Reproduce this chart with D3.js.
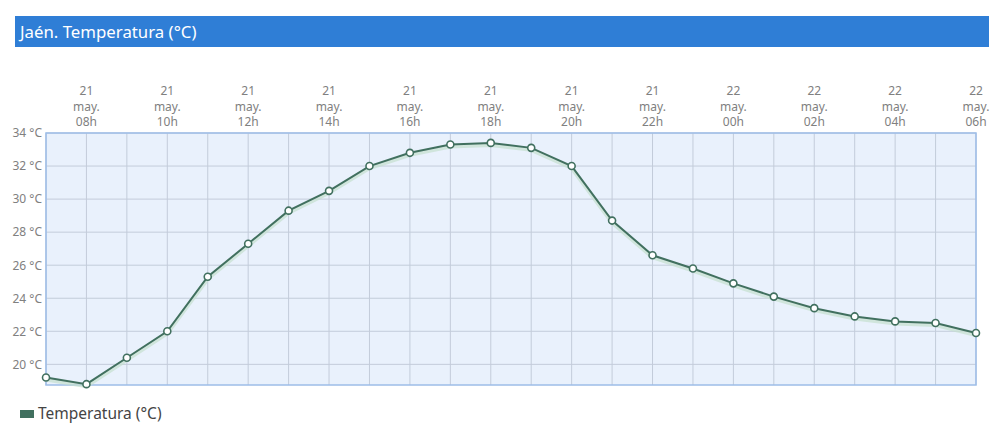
<!DOCTYPE html>
<html>
<head>
<meta charset="utf-8">
<script src="https://cdn.jsdelivr.net/npm/d3@7"></script>
<style>
  body { margin: 0; background: #fff; font-family: "Noto Sans", sans-serif; }
  svg { display: block; }
</style>
</head>
<body>
<div id="chart"></div>
<script>
// Data
var hours = ["07h","08h","09h","10h","11h","12h","13h","14h","15h","16h","17h","18h",
             "19h","20h","21h","22h","23h","00h","01h","02h","03h","04h","05h","06h"];
var days  = ["21","21","21","21","21","21","21","21","21","21","21","21",
             "21","21","21","21","21","22","22","22","22","22","22","22"];
var temps = [19.2, 18.8, 20.4, 22.0, 25.3, 27.3, 29.3, 30.5, 32.0, 32.8, 33.3, 33.4,
             33.1, 32.0, 28.7, 26.6, 25.8, 24.9, 24.1, 23.4, 22.9, 22.6, 22.5, 21.9];
var yTicks = [20, 22, 24, 26, 28, 30, 32, 34];
var title = "Jaén. Temperatura (°C)";
var seriesName = "Temperatura (°C)";

// Size
var width  = 1000;
var height = 429;
var plot = { left: 46, right: 976, top: 133, bottom: 385 };

var svg = d3.select("#chart")
        .append("svg")
        .attr("width", width)
        .attr("height", height);

// title bar
svg.append("rect")
        .attr("x", 15)
        .attr("y", 16)
        .attr("width", 974)
        .attr("height", 31)
        .style("fill", "#2f7ed6");
svg.append("text")
        .attr("x", 20)
        .attr("y", 38)
        .style("fill", "#fff")
        .style("font-size", "16.8px")
        .text(title);

var x = d3.scalePoint()
        .domain(d3.range(temps.length))
        .range([plot.left, plot.right]);
var y = d3.scaleLinear()
        .domain([18.75, 34])
        .range([plot.bottom, plot.top]);

// background
svg.append("rect")
        .attr("x", plot.left)
        .attr("y", plot.top)
        .attr("width", plot.right - plot.left)
        .attr("height", plot.bottom - plot.top)
        .style("fill", "#e9f1fc");

// grid
var grid = svg.append("g").attr("class", "grid");
grid.selectAll("line.v")
        .data(d3.range(temps.length))
        .enter()
        .append("line")
        .attr("x1", function(d){ return x(d); })
        .attr("x2", function(d){ return x(d); })
        .attr("y1", plot.top)
        .attr("y2", plot.bottom)
        .style("stroke", "#c3ccda")
        .style("stroke-width", "1px");
grid.selectAll("line.h")
        .data(yTicks)
        .enter()
        .append("line")
        .attr("x1", plot.left)
        .attr("x2", plot.right)
        .attr("y1", function(d){ return y(d); })
        .attr("y2", function(d){ return y(d); })
        .style("stroke", "#c3ccda")
        .style("stroke-width", "1px");

// border
svg.append("rect")
        .attr("x", plot.left)
        .attr("y", plot.top)
        .attr("width", plot.right - plot.left)
        .attr("height", plot.bottom - plot.top)
        .style("fill", "none")
        .style("stroke", "#9dbde8")
        .style("stroke-width", "1.5px");

// y axis labels
var yAxis = d3.axisLeft(y)
        .tickValues(yTicks)
        .tickSize(0)
        .tickPadding(4)
        .tickFormat(function(d){ return d + " °C"; });
svg.append("g")
        .attr("transform", "translate(" + plot.left + ",0)")
        .call(yAxis)
        .call(function(g){ g.select(".domain").remove(); })
        .selectAll("text")
        .style("fill", "#808080")
        .style("font-size", "12px")
        .style("font-family", "Noto Sans, sans-serif");

// x axis labels, every 2 hours
var xLabels = svg.append("g").attr("class", "xlabels");
var labelIdx = d3.range(1, temps.length, 2);
labelIdx.forEach(function(i){
    var t = xLabels.append("text")
            .attr("x", x(i))
            .attr("y", 95)
            .attr("text-anchor", "middle")
            .style("fill", "#808080")
            .style("font-size", "12px");
    t.append("tspan").attr("x", x(i)).attr("dy", 0).text(days[i]);
    t.append("tspan").attr("x", x(i)).attr("dy", 15.5).text("may.");
    t.append("tspan").attr("x", x(i)).attr("dy", 15.5).text(hours[i]);
});

// line + shadow
var line = d3.line()
        .x(function(d, i){ return x(i); })
        .y(function(d){ return y(d); });

svg.append("path")
        .datum(temps)
        .attr("d", line)
        .attr("transform", "translate(0,2)")
        .style("fill", "none")
        .style("stroke", "#c4e0cf")
        .style("stroke-width", "4px")
        .style("opacity", 0.7);
svg.append("path")
        .datum(temps)
        .attr("d", line)
        .style("fill", "none")
        .style("stroke", "#41705f")
        .style("stroke-width", "2px");

svg.selectAll("circle.pt")
        .data(temps)
        .enter()
        .append("circle")
        .attr("class", "pt")
        .attr("cx", function(d, i){ return x(i); })
        .attr("cy", function(d){ return y(d); })
        .attr("r", 3.5)
        .style("fill", "#fff")
        .style("stroke", "#41705f")
        .style("stroke-width", "1.6px");

// legend
svg.append("rect")
        .attr("x", 20)
        .attr("y", 410)
        .attr("width", 14)
        .attr("height", 8)
        .style("fill", "#41705f");
svg.append("text")
        .attr("x", 38)
        .attr("y", 419)
        .style("fill", "#444")
        .style("font-size", "15.5px")
        .text(seriesName);
</script>
</body>
</html>
